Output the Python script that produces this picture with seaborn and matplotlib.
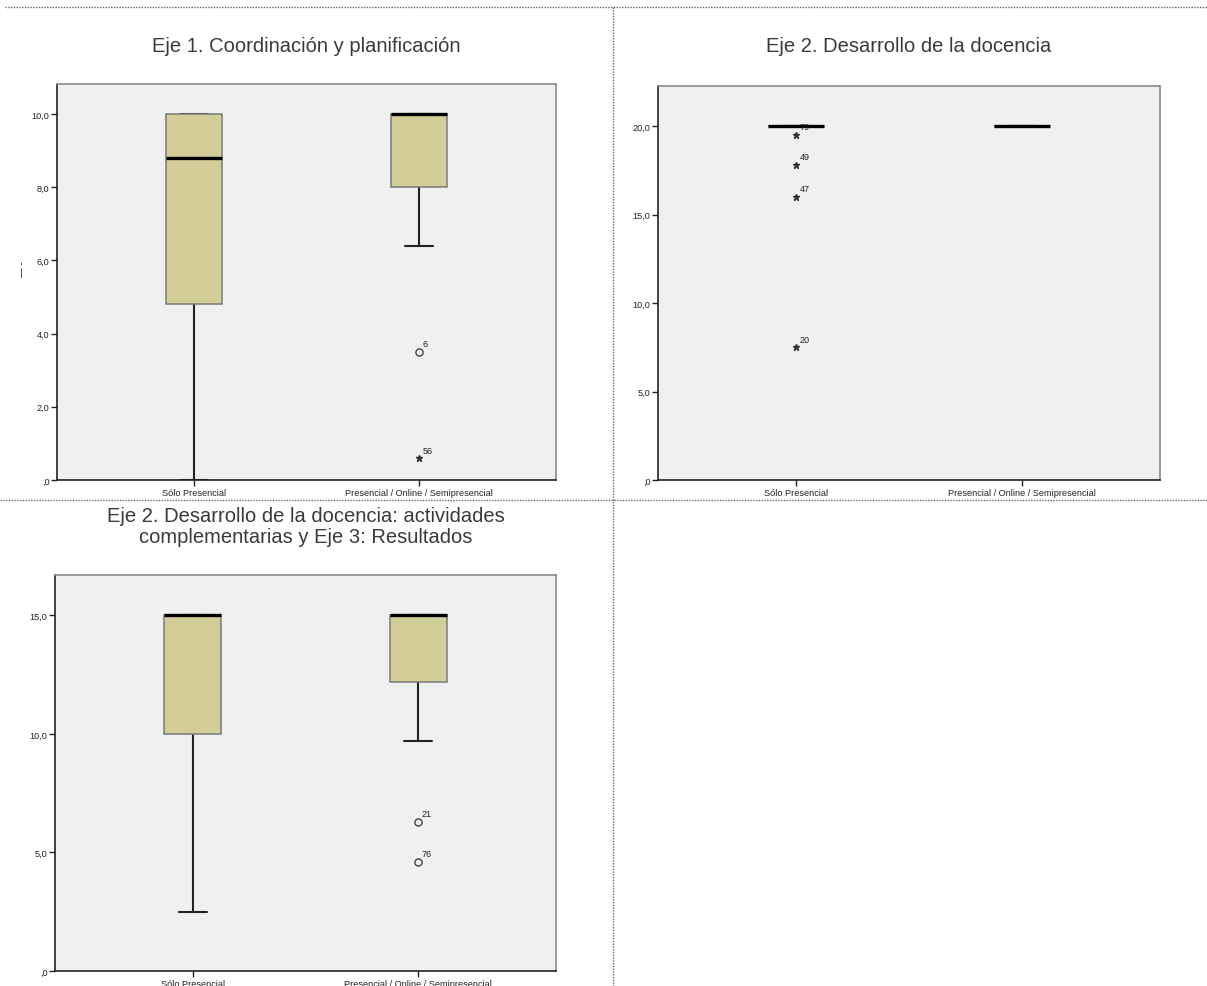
import numpy as np
import pandas as pd
import matplotlib
matplotlib.use("Agg")
import matplotlib.pyplot as plt
import seaborn as sns
from matplotlib.lines import Line2D
from matplotlib import font_manager

# ---------------- data ----------------
categories = ["Sólo Presencial", "Presencial / Online / Semipresencial"]

titles = [
    "Eje 1. Coordinación y planificación",
    "Eje 2. Desarrollo de la docencia",
    "Eje 2. Desarrollo de la docencia: actividades\ncomplementarias y Eje 3: Resultados",
]

# Panel 1: Eje 1 (non-outlying cases per category)
p1_core_a = [0.0, 4.8, 8.8, 10.0, 10.0]
p1_core_b = [6.4, 8.0, 8.0, 9.0, 10.0, 10.0, 10.0, 10.0, 10.0, 10.0, 10.0]
p1_out_vals = [3.5, 0.6]
p1_out_ids = ["6", "56"]
p1_out_kind = ["o", "*"]
p1_out_cat = [1, 1]

# Panel 2: Eje 2
p2_core_a = [20.0, 20.0, 20.0, 20.0, 20.0, 20.0, 20.0, 20.0, 20.0, 20.0, 20.0, 20.0, 20.0]
p2_core_b = [20.0, 20.0, 20.0, 20.0, 20.0]
p2_out_vals = [19.5, 17.8, 16.0, 7.5]
p2_out_ids = ["79", "49", "47", "20"]
p2_out_kind = ["*", "*", "*", "*"]
p2_out_cat = [0, 0, 0, 0]

# Panel 3: Eje 2 actividades complementarias y Eje 3
p3_core_a = [2.5, 10.0, 15.0, 15.0, 15.0]
p3_core_b = [9.7, 12.2, 13.0, 14.0, 15.0, 15.0, 15.0, 15.0, 15.0, 15.0, 15.0]
p3_out_vals = [6.3, 4.6]
p3_out_ids = ["21", "76"]
p3_out_kind = ["o", "o"]
p3_out_cat = [1, 1]

p1_ticks = [0, 2, 4, 6, 8, 10]
p1_ticklabels = [",0", "2,0", "4,0", "6,0", "8,0", "10,0"]
p2_ticks = [0, 5, 10, 15, 20]
p2_ticklabels = [",0", "5,0", "10,0", "15,0", "20,0"]
p3_ticks = [0, 5, 10, 15]
p3_ticklabels = [",0", "5,0", "10,0", "15,0"]

# ---------------- style ----------------
sns.set_style("white")
avail = {f.name for f in font_manager.fontManager.ttflist}
base_font = "Liberation Sans" if "Liberation Sans" in avail else "DejaVu Sans"
plt.rcParams["font.family"] = [base_font, "DejaVu Sans"]

W, H = 1207, 987
fig = plt.figure(figsize=(W / 100, H / 100), dpi=100)
fig.patch.set_facecolor("white")

box_color = "#D3CE97"
bg_color = "#F0F0F0"


def px_axes(x0, y0, x1, y1):
    return fig.add_axes([x0 / W, 1 - y1 / H, (x1 - x0) / W, (y1 - y0) / H])


def build_df(core_a, core_b, out_vals, out_cat):
    vals_a = list(core_a) + [v for v, c in zip(out_vals, out_cat) if c == 0]
    vals_b = list(core_b) + [v for v, c in zip(out_vals, out_cat) if c == 1]
    return pd.DataFrame({
        "grupo": [categories[0]] * len(vals_a) + [categories[1]] * len(vals_b),
        "valor": vals_a + vals_b,
    })


def draw_panel(ax, df, out_vals, out_ids, out_kind, out_cat, ymax, ticks, ticklabels):
    ax.set_facecolor(bg_color)
    sns.boxplot(
        data=df, x="grupo", y="valor", order=categories, ax=ax,
        color=box_color, saturation=1, width=0.25, showfliers=False,
        linecolor="#7a7a7a", linewidth=1.1,
        boxprops=dict(zorder=2),
        medianprops=dict(color="black", linewidth=2.4, zorder=3),
        whiskerprops=dict(color="#222222", linewidth=1.5, zorder=1.5),
        capprops=dict(color="#222222", linewidth=1.5, zorder=1.5),
    )
    for v, i, k, c in zip(out_vals, out_ids, out_kind, out_cat):
        if k == "o":
            ax.plot([c], [v], marker="o", markersize=5.2, markerfacecolor="none",
                    markeredgecolor="#333333", markeredgewidth=0.9, linestyle="none")
        else:
            ax.plot([c], [v], marker="*", markersize=5.0, color="#333333",
                    linestyle="none")
        ax.annotate(i, (c, v), xytext=(2.5, 2.5), textcoords="offset points",
                    fontsize=6.5, color="#222222", ha="left", va="bottom")
    ax.set_xlim(-0.61, 1.61)
    ax.set_ylim(0, ymax)
    ax.set_yticks(ticks)
    ax.set_yticklabels(ticklabels)
    ax.set_xlabel("")
    ax.set_ylabel("")
    ax.tick_params(axis="both", which="both", direction="out", length=4, width=1,
                   color="#222222", labelsize=6.6, labelcolor="#222222", pad=1.5,
                   left=True, bottom=True)
    for s in ["left", "bottom"]:
        ax.spines[s].set_color("#222222")
        ax.spines[s].set_linewidth(1.2)
    for s in ["top", "right"]:
        ax.spines[s].set_color("#8a8a8a")
        ax.spines[s].set_linewidth(1.2)
        ax.spines[s].set_visible(True)


ax1 = px_axes(57, 85, 556, 481)
draw_panel(ax1, build_df(p1_core_a, p1_core_b, p1_out_vals, p1_out_cat),
           p1_out_vals, p1_out_ids, p1_out_kind, p1_out_cat, 10.82, p1_ticks, p1_ticklabels)

ax2 = px_axes(658, 87, 1160, 481)
draw_panel(ax2, build_df(p2_core_a, p2_core_b, p2_out_vals, p2_out_cat),
           p2_out_vals, p2_out_ids, p2_out_kind, p2_out_cat, 22.26, p2_ticks, p2_ticklabels)

ax3 = px_axes(55, 576, 556, 972)
draw_panel(ax3, build_df(p3_core_a, p3_core_b, p3_out_vals, p3_out_cat),
           p3_out_vals, p3_out_ids, p3_out_kind, p3_out_cat, 16.7, p3_ticks, p3_ticklabels)

# titles
title_color = "#3a3a3a"
fig.text(306 / W, 1 - 47 / H, titles[0], ha="center", va="center", fontsize=14.5, color=title_color)
fig.text(909 / W, 1 - 47 / H, titles[1], ha="center", va="center", fontsize=14.5, color=title_color)
fig.text(306 / W, 1 - 527 / H, titles[2], ha="center", va="center", fontsize=14.5,
         color=title_color, linespacing=1.15)

# small clipped y label mark in panel 1
fig.text(22 / W, 1 - 269 / H, "— -", rotation=90, ha="center", va="center",
         fontsize=7, color="#222222")

# dotted separators
sep = dict(color="#666666", linewidth=1, linestyle=(0, (1, 1)))
fig.add_artist(Line2D([5 / W, 1], [1 - 8 / H, 1 - 8 / H], transform=fig.transFigure, **sep))
fig.add_artist(Line2D([0, 1], [1 - 501 / H, 1 - 501 / H], transform=fig.transFigure, **sep))
fig.add_artist(Line2D([613 / W, 613 / W], [1 - 8 / H, 0], transform=fig.transFigure, **sep))

fig.savefig("out.png", dpi=100)
